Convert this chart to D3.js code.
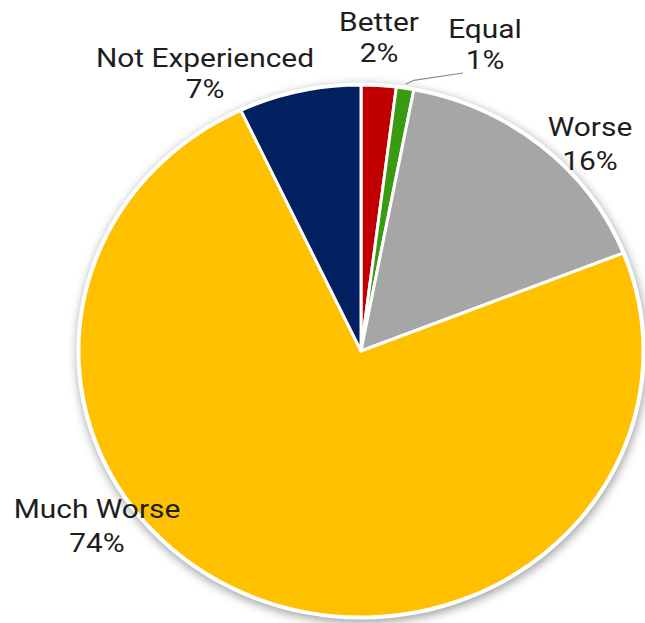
<!DOCTYPE html>
<html>
<head>
<meta charset="utf-8">
<script src="https://cdn.jsdelivr.net/npm/d3@7"></script>
<style>
  html, body { margin: 0; padding: 0; background: #fff; }
  svg { display: block; }
  .lbl { font-family: Roboto, "DejaVu Sans", sans-serif; font-size: 26px; fill: #1e1e1e; }
</style>
</head>
<body>
<svg id="chart" width="645" height="623"></svg>
<script>
// Survey answers, clockwise from 12 o'clock
const categories = ["Better", "Equal", "Worse", "Much Worse", "Not Experienced"];
const values = [2, 1, 16, 74, 7];
const sliceColors = ["#C00000", "#3A9A12", "#A6A6A6", "#FFC000", "#002060"];

// Where each label block sits (centre x, baseline of first line)
const labelAnchors = [
  [379, 31], [485, 38], [590, 136], [97, 518], [205, 67]
];

const W = 645, H = 623;
const cx = 361, cy = 351, ry = 266, rx = 282;
const sx = rx / ry;

const svg = d3.select("#chart");
const defs = svg.append("defs");
const blur = defs.append("filter").attr("id", "soft")
  .attr("x", "-20%").attr("y", "-20%").attr("width", "140%").attr("height", "140%");
blur.append("feGaussianBlur").attr("stdDeviation", 5);

// soft shadow under the pie
svg.append("ellipse")
  .attr("cx", cx + 1).attr("cy", cy + 3)
  .attr("rx", rx + 3).attr("ry", ry + 3)
  .attr("fill", "#8c8c8c")
  .attr("opacity", 0.8)
  .attr("filter", "url(#soft)");

const pie = d3.pie().sort(null).value(d => d.v)
  .startAngle(0).endAngle(2 * Math.PI);
const data = categories.map((c, i) => ({ c, v: values[i], color: sliceColors[i] }));
const arcs = pie(data);

const arc = d3.arc().innerRadius(0).outerRadius(ry);

const g = svg.append("g")
  .attr("transform", `translate(${cx},${cy}) scale(${sx},1)`);

// white rim
g.append("circle").attr("r", ry + 2.5).attr("fill", "#fff");

g.selectAll("path.slice")
  .data(arcs)
  .join("path")
  .attr("class", "slice")
  .attr("d", arc)
  .attr("fill", d => d.data.color)
  .attr("stroke", "#fff")
  .attr("stroke-width", 3)
  .attr("stroke-linejoin", "round")
  .attr("vector-effect", "non-scaling-stroke");

// leader line for the thin "Equal" slice
const eq = arcs[1];
const eqMid = (eq.startAngle + eq.endAngle) / 2;
const ex = cx + Math.sin(eqMid) * (ry + 4) * sx;
const ey = cy - Math.cos(eqMid) * (ry + 4);
svg.append("polyline")
  .attr("points", `${ex},${ey} ${ex + 8},${ey - 4} 463,73`)
  .attr("fill", "none")
  .attr("stroke", "#8a8a8a")
  .attr("stroke-width", 1.2);

// labels: name on the first line, percentage below
const fmt = d => Math.round(d) + "%";
const labels = svg.selectAll("g.label")
  .data(arcs)
  .join("g")
  .attr("class", "label")
  .attr("transform", (d, i) => `translate(${labelAnchors[i][0]},${labelAnchors[i][1]}) scale(1.15,1)`);

labels.append("text")
  .attr("class", "lbl")
  .attr("text-anchor", "middle")
  .text(d => d.data.c);

labels.append("text")
  .attr("class", "lbl")
  .attr("text-anchor", "middle")
  .attr("y", (d, i) => i === 3 || i === 2 ? 34 : 31)
  .text(d => fmt(d.data.v));
</script>
</body>
</html>
